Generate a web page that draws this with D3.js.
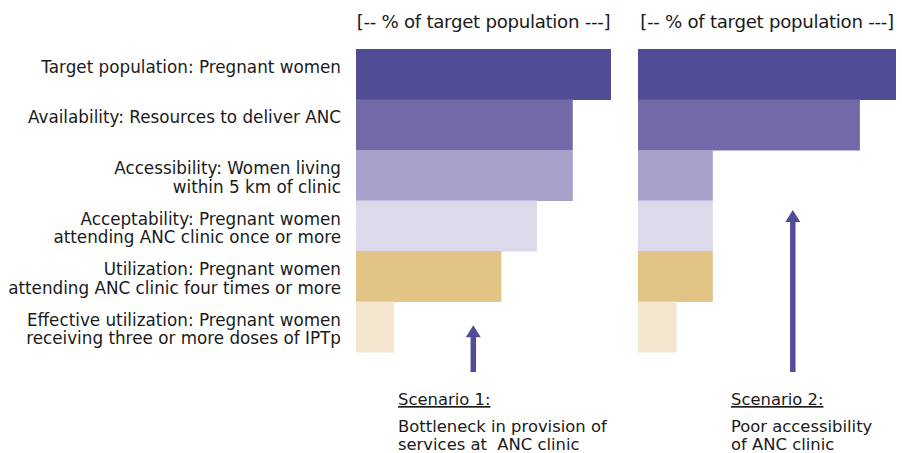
<!DOCTYPE html>
<html><head><meta charset="utf-8">
<script src="https://cdn.jsdelivr.net/npm/d3@7"></script>
<style>body{margin:0;background:#fff}svg{display:block}text{font-family:"DejaVu Sans",sans-serif;fill:#1a1a1a;white-space:pre}</style>
</head><body><svg id="c" width="902" height="453"></svg>
<script>
const categories = [
  "Target population: Pregnant women",
  "Availability: Resources to deliver ANC",
  "Accessibility: Women living\nwithin 5 km of clinic",
  "Acceptability: Pregnant women\nattending ANC clinic once or more",
  "Utilization: Pregnant women\nattending ANC clinic four times or more",
  "Effective utilization: Pregnant women\nreceiving three or more doses of IPTp"
];
const scenario1 = [100, 85, 85, 71, 57, 15];
const scenario2 = [100, 86, 29, 29, 29, 15];
const colors = ["#514c96", "#726aa8", "#a7a1cc", "#dcd9eb", "#e1c486", "#f4e6ce"];
const axisTitle = "[-- % of target population ---]";
const scenarioTitles = ["Scenario 1:", "Scenario 2:"];
const scenarioTexts = [["Bottleneck in provision of", "services at  ANC clinic"], ["Poor accessibility", "of ANC clinic"]];
const arrowX = [46, 60];             // % position of arrow in each panel
const arrowTip = [5.47, 3.19];       // row position (in band units) of arrow tip

const svg = d3.select("#c");
const y = d3.scaleBand().domain(d3.range(categories.length)).range([49, 352]).padding(0);
const rowPos = d3.scaleLinear().domain([0, categories.length]).range(y.range());
const panels = [
  {data: scenario1, x: d3.scaleLinear().domain([0,100]).range([356, 611]), annX: 398},
  {data: scenario2, x: d3.scaleLinear().domain([0,100]).range([638, 896]), annX: 731}
];
const FS = 16.8, AFS = 16.4;

// category labels
const lab = svg.append("g");
categories.forEach((c, i) => {
  const lines = c.split("\n");
  const t = lab.append("text").attr("text-anchor", "end").attr("font-size", FS).attr("fill", "#1a1a1a");
  const cy = y(i) + y.bandwidth()/2;
  const lh = 18.5;
  const mid = lines.length > 1 ? cy + 2 : cy - 7.5;
  const y0 = mid - (lines.length-1)*lh/2 + 6;
  lines.forEach((l, k) => t.append("tspan").attr("x", 341).attr("y", y0 + k*lh).text(l));
});

panels.forEach((p, pi) => {
  const g = svg.append("g");
  g.selectAll("rect").data(p.data).join("rect")
    .attr("x", p.x(0)).attr("y", (d,i) => y(i))
    .attr("width", d => p.x(d) - p.x(0)).attr("height", y.bandwidth() + 0.5)
    .attr("fill", (d,i) => colors[i]);
  g.append("text").attr("x", (p.x(0)+p.x(100))/2).attr("y", 28)
    .attr("text-anchor", "middle").attr("font-size", 18.2).attr("letter-spacing", -0.3).text(axisTitle);
  // arrow
  const ax = p.x(arrowX[pi]);
  const tipY = rowPos(arrowTip[pi]);
  const baseY = 372;
  g.append("line").attr("x1", ax).attr("x2", ax).attr("y1", baseY).attr("y2", tipY + 8)
    .attr("stroke", "#514c96").attr("stroke-width", 5.5);
  g.append("path").attr("d", `M${ax-7.5},${tipY+12}L${ax},${tipY}L${ax+7.5},${tipY+12}Z`).attr("fill", "#514c96");
  // annotation
  g.append("text").attr("x", p.annX).attr("y", 405).attr("font-size", AFS)
    .attr("text-decoration", "underline").text(scenarioTitles[pi]);
  scenarioTexts[pi].forEach((l, k) => g.append("text").attr("x", p.annX).attr("y", 432 + k*17.5)
    .attr("font-size", AFS).text(l));
});
</script></body></html>
